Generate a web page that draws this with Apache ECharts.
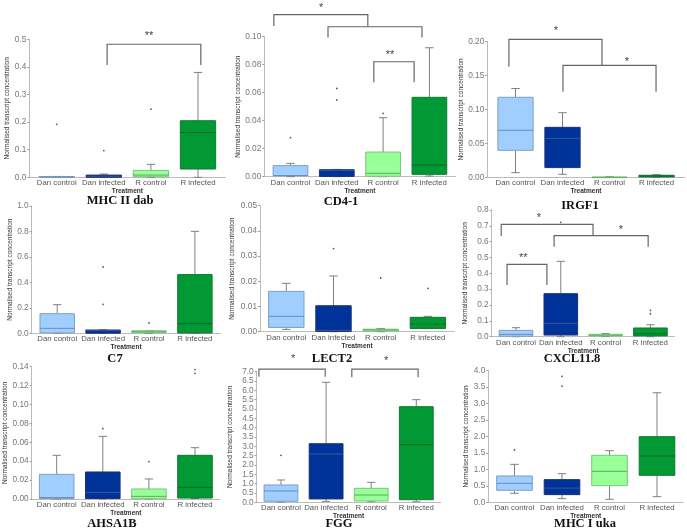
<!DOCTYPE html>
<html><head><meta charset="utf-8">
<script src="https://cdn.jsdelivr.net/npm/echarts@6/dist/echarts.min.js"></script>
<style>html,body{margin:0;padding:0;background:#fff}#c{width:687px;height:528px}</style>
</head><body><div id="c"></div>
<script>
const categories = ['Dan control', 'Dan infected', 'R control', 'R infected'];
const geneNames = ['MHC II dab', 'CD4-1', 'IRGF1', 'C7', 'LECT2', 'CXCL11.8', 'AHSA1B', 'FGG', 'MHC I uka'];

// box stats per category: [min, Q1, median, Q3, max]
const mhc2dabBoxes = [[0,0,0.001,0.003,0.003],[0,0,0.004,0.008,0.012],[0,0.002,0.008,0.025,0.047],[0,0.030,0.162,0.205,0.380]];
const mhc2dabOutliers = [[0,0.192],[1,0.097],[2,0.247]];
const mhc2dabBrackets = [[1.07,3.06,0.482,0.407,0.407]];
const mhc2dabStars = [[1.96,0.524,'**']];

const cd41Boxes = [[0,0.0007,0.0008,0.0079,0.0095],[0,0.0002,0.0045,0.005,0.0052],[0,0.0003,0.0024,0.0176,0.0421],[0.0005,0.0017,0.0083,0.0567,0.0921]];
const cd41Outliers = [[0,0.0279],[1,0.063],[1,0.0548],[2,0.0452]];
const cd41Brackets = [[1.80,2.67,0.0821,0.0674,0.0674],[0.81,2.84,0.1071,0.0995,0.0995],[-0.36,1.67,0.1157,0.1076,0.1071]];
const cd41Stars = [[2.15,0.0893,'**'],[0.66,0.1226,'*']];

const irgf1Boxes = [[0.0069,0.0398,0.0693,0.118,0.131],[0.0044,0.0143,0.0575,0.0737,0.0953],[0,0,0,0.0004,0.0008],[0.0003,0.0005,0.002,0.003,0.0039]];
const irgf1Outliers = [];
const irgf1Brackets = [[-0.14,1.84,0.2034,0.163,0.165],[1.01,2.99,0.165,0.126,0.126]];
const irgf1Stars = [[0.86,0.2206,'*'],[2.37,0.175,'*']];

const c7Boxes = [[0,0.003,0.039,0.154,0.225],[0,0.001,0.021,0.026,0.028],[0,0.005,0.012,0.020,0.022],[0,0.002,0.076,0.461,0.801]];
const c7Outliers = [[1,0.521],[1,0.228],[2,0.081]];
const c7Brackets = [];
const c7Stars = [];

const lect2Boxes = [[0.0009,0.0017,0.0061,0.016,0.0192],[0,0.0001,0.0005,0.0103,0.0221],[0,0.0003,0.0007,0.001,0.0013],[0.0012,0.0013,0.003,0.0057,0.0061]];
const lect2Outliers = [[1,0.033],[2,0.0213],[3,0.0172]];
const lect2Brackets = [];
const lect2Stars = [];

const cxcl118Boxes = [[0,0.003,0.0147,0.040,0.057],[0,0.0105,0.084,0.2716,0.476],[0.001,0.005,0.010,0.015,0.020],[0,0.005,0.019,0.055,0.0758]];
const cxcl118Outliers = [[1,0.722],[3,0.166],[3,0.145]];
const cxcl118Brackets = [[-0.33,1.72,0.709,0.636,0.638],[0.85,2.95,0.638,0.568,0.568],[-0.20,0.69,0.457,0.326,0.326]];
const cxcl118Stars = [[0.51,0.768,'*'],[2.34,0.69,'*'],[0.16,0.516,'**']];

const ahsa1bBoxes = [[0,0.0005,0.0015,0.0261,0.0462],[0,0.0005,0.007,0.0286,0.0663],[0,0.0003,0.0028,0.0106,0.0212],[0.0005,0.001,0.0123,0.0462,0.0543]];
const ahsa1bOutliers = [[1,0.0744],[2,0.0395],[3,0.137],[3,0.133]];
const ahsa1bBrackets = [];
const ahsa1bStars = [];

const fggBoxes = [[0.02,0.054,0.607,0.93,1.196],[0.05,0.18,2.59,3.14,6.43],[0.03,0.07,0.39,0.75,1.07],[0.03,0.14,3.09,5.125,5.5]];
const fggOutliers = [[0,2.518]];
const fggBrackets = [[-0.49,0.98,7.14,6.73,6.73],[1.57,3.04,7.14,6.7,6.7]];
const fggStars = [[0.27,7.84,'*'],[2.33,7.71,'*']];

const mhc1ukaBoxes = [[0.273,0.365,0.577,0.80,1.154],[0.111,0.233,0.43,0.689,0.871],[0.091,0.506,0.942,1.428,1.57],[0.172,0.82,1.408,1.995,3.33]];
const mhc1ukaOutliers = [[0,1.59],[1,3.83],[1,3.53]];
const mhc1ukaBrackets = [];
const mhc1ukaStars = [];

// y axis ticks: [max, step, decimals]
const yTicks = [[0.5,0.1,1],[0.10,0.02,2],[0.20,0.05,2],[1.0,0.2,1],[0.05,0.01,2],[0.8,0.1,1],[0.14,0.02,2],[7.0,0.5,1],[4.0,0.5,1]];

const panelData = [
  [mhc2dabBoxes, mhc2dabOutliers, mhc2dabBrackets, mhc2dabStars],
  [cd41Boxes, cd41Outliers, cd41Brackets, cd41Stars],
  [irgf1Boxes, irgf1Outliers, irgf1Brackets, irgf1Stars],
  [c7Boxes, c7Outliers, c7Brackets, c7Stars],
  [lect2Boxes, lect2Outliers, lect2Brackets, lect2Stars],
  [cxcl118Boxes, cxcl118Outliers, cxcl118Brackets, cxcl118Stars],
  [ahsa1bBoxes, ahsa1bOutliers, ahsa1bBrackets, ahsa1bStars],
  [fggBoxes, fggOutliers, fggBrackets, fggStars],
  [mhc1ukaBoxes, mhc1ukaOutliers, mhc1ukaBrackets, mhc1ukaStars]
];

// layout (pixels)
const layout = [
  {axisX:29.3, c0:56.7, sp:47.1, top:39.3, bottom:177.3, nameGap:19, tx:120, ty:201},
  {axisX:264.3, c0:290.5, sp:46.3, top:36.7, bottom:176.7, nameGap:22, tx:341, ty:202},
  {axisX:487.3, c0:515.5, sp:47.0, top:41.7, bottom:177.3, nameGap:20, tx:580, ty:206},
  {axisX:31.7, c0:57.2, sp:45.9, top:206, bottom:333.3, nameGap:18, tx:115, ty:359},
  {axisX:260, c0:286.3, sp:47.2, top:205.7, bottom:331.7, nameGap:24, tx:332, ty:359},
  {axisX:491.7, c0:516, sp:44.8, top:210, bottom:336.7, nameGap:23, tx:572, ty:359},
  {axisX:31.7, c0:56.7, sp:46.1, top:366.7, bottom:499, nameGap:23, tx:112, ty:524},
  {axisX:256.7, c0:281, sp:45.1, top:371.7, bottom:502.3, nameGap:23, tx:339, ty:524},
  {axisX:488.3, c0:514.5, sp:47.5, top:370.7, bottom:502.3, nameGap:19, tx:585, ty:524}
];

const fills = ['#a0cfff', '#003399', '#99ff99', '#009933'];
const borders = ['#7d9fc6', '#1c2f78', '#77c977', '#0f7a30'];
const medians = ['#6c8cb6', '#3a5596', '#5fa85f', '#0a6a28'];
const TITLE_SIZE = 12.5;

const grids = [], xAxes = [], yAxes = [], series = [], titles = [];
layout.forEach((L, i) => {
  const pad = (L.c0 - L.axisX) / L.sp;
  grids.push({left: L.axisX, top: L.top, width: (3 + 2 * pad) * L.sp, height: L.bottom - L.top});
  xAxes.push({
    type: 'value', gridIndex: i, min: -pad, max: 3 + pad,
    name: 'Treatment', nameLocation: 'middle', nameGap: 10.5,
    nameTextStyle: {fontSize: 6.5, fontWeight: 'bold', color: '#333', fontFamily: 'Liberation Sans'},
    axisLine: {show: true, onZero: false, lineStyle: {color: '#bbb', width: 1}},
    axisTick: {show: false}, splitLine: {show: false},
    axisLabel: {customValues: [0, 1, 2, 3], formatter: v => categories[Math.round(v)], fontSize: 7.8, color: '#555', margin: 2, fontFamily: 'Liberation Sans'}
  });
  const [ym, ys, dec] = yTicks[i];
  yAxes.push({
    type: 'value', gridIndex: i, min: 0, max: ym, interval: ys,
    name: 'Normalised transcript concentration', nameLocation: 'middle', nameGap: L.nameGap,
    nameTextStyle: {fontSize: 6.5, color: '#333', fontFamily: 'Liberation Sans'},
    axisLine: {show: true, onZero: false, lineStyle: {color: '#bbb', width: 1}},
    axisTick: {show: true, length: 2, lineStyle: {color: '#999'}},
    splitLine: {show: false},
    axisLabel: {formatter: v => v.toFixed(dec), fontSize: 8.3, color: '#777', margin: 3, fontFamily: 'Liberation Sans'}
  });
  titles.push({text: geneNames[i], left: L.tx, top: L.ty - TITLE_SIZE / 2, textAlign: 'center', padding: 0,
    textStyle: {fontFamily: 'Liberation Serif', fontWeight: 'bold', fontSize: TITLE_SIZE, color: '#111'}});

  const [boxes, outs, brks, stars] = panelData[i];
  series.push({
    type: 'custom', xAxisIndex: i, yAxisIndex: i, clip: false,
    data: boxes.map((b, k) => [k, ...b]),
    renderItem: (params, api) => {
      const x = api.value(0), k = Math.round(x);
      const band = api.size([1, 0])[0];
      const bw = band * 0.75, cw = band * 0.18;
      const p = [1, 2, 3, 4, 5].map(d => api.coord([x, api.value(d)]));
      const cx = p[0][0];
      const wl = {stroke: '#808080', lineWidth: 1};
      return {type: 'group', children: [
        {type: 'line', shape: {x1: cx, y1: p[3][1], x2: cx, y2: p[4][1]}, style: wl},
        {type: 'line', shape: {x1: cx, y1: p[0][1], x2: cx, y2: p[1][1]}, style: wl},
        {type: 'line', shape: {x1: cx - cw / 2, y1: p[4][1], x2: cx + cw / 2, y2: p[4][1]}, style: wl},
        {type: 'line', shape: {x1: cx - cw / 2, y1: p[0][1], x2: cx + cw / 2, y2: p[0][1]}, style: wl},
        {type: 'rect', shape: {x: cx - bw / 2, y: p[3][1], width: bw, height: Math.max(p[1][1] - p[3][1], 0.6)},
          style: {fill: fills[k], stroke: borders[k], lineWidth: 1}},
        {type: 'line', shape: {x1: cx - bw / 2, y1: p[2][1], x2: cx + bw / 2, y2: p[2][1]}, style: {stroke: medians[k], lineWidth: 1}}
      ]};
    }
  });
  if (outs.length) series.push({
    type: 'scatter', xAxisIndex: i, yAxisIndex: i, data: outs, symbolSize: 1.8,
    itemStyle: {color: '#333'}, silent: true
  });
  if (brks.length) series.push({
    type: 'custom', xAxisIndex: i, yAxisIndex: i, clip: false, data: brks,
    renderItem: (params, api) => {
      const x1 = api.value(0), x2 = api.value(1);
      const a = api.coord([x1, api.value(3)]), b = api.coord([x1, api.value(2)]);
      const c = api.coord([x2, api.value(2)]), d = api.coord([x2, api.value(4)]);
      return {type: 'polyline', shape: {points: [a, b, c, d]}, style: {stroke: '#666', lineWidth: 1.2, fill: null}};
    }
  });
  if (stars.length) series.push({
    type: 'custom', xAxisIndex: i, yAxisIndex: i, clip: false, data: stars.map(s => [s[0], s[1]]),
    renderItem: (params, api) => {
      const pt = api.coord([api.value(0), api.value(1)]);
      return {type: 'text', x: pt[0], y: pt[1] + 3, style: {text: stars[params.dataIndex][2], fontSize: 11, fill: '#444', align: 'center', verticalAlign: 'middle', fontFamily: 'Liberation Sans'}};
    }
  });
});

const chart = echarts.init(document.getElementById('c'), null, {renderer: 'canvas'});
chart.setOption({animation: false, backgroundColor: '#fff', title: titles, grid: grids, xAxis: xAxes, yAxis: yAxes, series: series});
</script></body></html>
